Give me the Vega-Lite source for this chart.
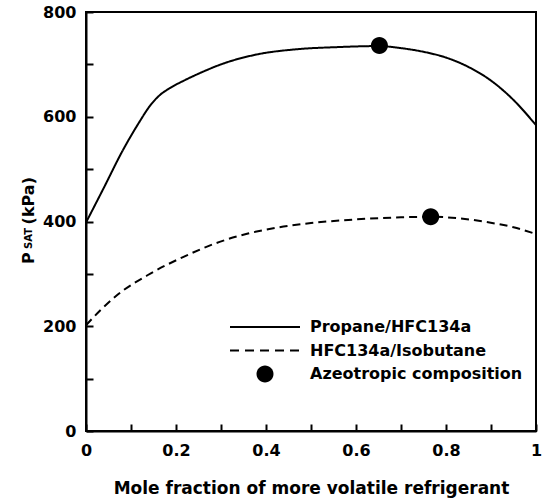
{
  "$schema": "https://vega.github.io/schema/vega-lite/v6.json",
  "autosize": "none",
  "width": 450,
  "height": 419,
  "padding": {"left": 86, "top": 12, "right": 8, "bottom": 70},
  "background": "white",
  "config": {
    "view": {"stroke": "black", "strokeWidth": 2},
    "font": "DejaVu Sans",
    "axis": {
      "domainColor": "black", "domainWidth": 2,
      "tickColor": "black", "tickWidth": 2, "tickSize": -7,
      "grid": false,
      "labelFont": "DejaVu Sans", "labelFontSize": 16, "labelFontWeight": "bold", "labelColor": "black",
      "titleFont": "DejaVu Sans", "titleFontSize": 17, "titleFontWeight": "bold", "titleColor": "black"
    }
  },
  "resolve": {"axis": {"y": "independent"}},
  "layer": [
    {
      "data": {"values": [
        {"x": 0, "p": 398, "series": "Propane/HFC134a"},
        {"x": 0.04, "p": 465, "series": "Propane/HFC134a"},
        {"x": 0.08, "p": 533, "series": "Propane/HFC134a"},
        {"x": 0.115, "p": 585, "series": "Propane/HFC134a"},
        {"x": 0.145, "p": 624, "series": "Propane/HFC134a"},
        {"x": 0.165, "p": 642, "series": "Propane/HFC134a"},
        {"x": 0.185, "p": 654, "series": "Propane/HFC134a"},
        {"x": 0.22, "p": 670, "series": "Propane/HFC134a"},
        {"x": 0.26, "p": 686, "series": "Propane/HFC134a"},
        {"x": 0.3, "p": 700, "series": "Propane/HFC134a"},
        {"x": 0.38, "p": 719, "series": "Propane/HFC134a"},
        {"x": 0.47, "p": 729, "series": "Propane/HFC134a"},
        {"x": 0.56, "p": 733, "series": "Propane/HFC134a"},
        {"x": 0.65, "p": 735, "series": "Propane/HFC134a"},
        {"x": 0.7, "p": 731, "series": "Propane/HFC134a"},
        {"x": 0.75, "p": 724, "series": "Propane/HFC134a"},
        {"x": 0.8, "p": 713, "series": "Propane/HFC134a"},
        {"x": 0.85, "p": 695, "series": "Propane/HFC134a"},
        {"x": 0.9, "p": 669, "series": "Propane/HFC134a"},
        {"x": 0.95, "p": 632, "series": "Propane/HFC134a"},
        {"x": 1.0, "p": 584, "series": "Propane/HFC134a"},
        {"x": 0, "p": 202, "series": "HFC134a/Isobutane"},
        {"x": 0.035, "p": 233, "series": "HFC134a/Isobutane"},
        {"x": 0.07, "p": 260, "series": "HFC134a/Isobutane"},
        {"x": 0.144, "p": 301, "series": "HFC134a/Isobutane"},
        {"x": 0.218, "p": 333, "series": "HFC134a/Isobutane"},
        {"x": 0.29, "p": 359, "series": "HFC134a/Isobutane"},
        {"x": 0.36, "p": 377, "series": "HFC134a/Isobutane"},
        {"x": 0.43, "p": 389, "series": "HFC134a/Isobutane"},
        {"x": 0.5, "p": 397, "series": "HFC134a/Isobutane"},
        {"x": 0.6, "p": 404, "series": "HFC134a/Isobutane"},
        {"x": 0.7, "p": 408, "series": "HFC134a/Isobutane"},
        {"x": 0.77, "p": 409, "series": "HFC134a/Isobutane"},
        {"x": 0.83, "p": 406, "series": "HFC134a/Isobutane"},
        {"x": 0.89, "p": 399, "series": "HFC134a/Isobutane"},
        {"x": 0.95, "p": 389, "series": "HFC134a/Isobutane"},
        {"x": 1.0, "p": 376, "series": "HFC134a/Isobutane"}
      ]},
      "mark": {"type": "line", "interpolate": "monotone", "color": "black", "strokeWidth": 2},
      "encoding": {
        "x": {"field": "x", "type": "quantitative",
          "scale": {"domain": [0, 1], "nice": false},
          "axis": {"values": [0, 0.1, 0.2, 0.3, 0.4, 0.5, 0.6, 0.7, 0.8, 0.9, 1],
            "labelExpr": "round(datum.value*10) % 2 == 0 ? format(datum.value, '~g') : ''",
            "labelPadding": 18, "labelFlush": false,
            "title": "Mole fraction of more volatile refrigerant", "titlePadding": 22}},
        "y": {"field": "p", "type": "quantitative",
          "scale": {"domain": [0, 800], "nice": false},
          "axis": {"values": [0, 100, 200, 300, 400, 500, 600, 700, 800],
            "labelExpr": "datum.value % 200 == 0 ? datum.label : ''",
            "labelPadding": 17, "labelFlush": false,
            "title": "P\u00a0\u00a0\u00a0\u00a0\u00a0(kPa)", "titleFontSize": 16,
            "titleAngle": -90, "titleAlign": "center", "titleBaseline": "alphabetic",
            "titleX": -53, "titleY": 208}},
        "detail": {"field": "series"},
        "strokeDash": {"field": "series", "type": "nominal",
          "scale": {"domain": ["Propane/HFC134a", "HFC134a/Isobutane"], "range": [[1, 0], [8, 5]]},
          "legend": null}
      }
    },
    {
      "data": {"values": [
        {"x": 0.652, "p": 736, "series": "Azeotropic composition"},
        {"x": 0.766, "p": 409, "series": "Azeotropic composition"}
      ]},
      "mark": {"type": "point", "filled": true, "color": "black", "size": 400, "opacity": 1},
      "encoding": {
        "x": {"field": "x", "type": "quantitative"},
        "y": {"field": "p", "type": "quantitative",
          "axis": {"orient": "left", "labels": false, "ticks": false, "domain": false, "grid": false,
            "title": "SAT", "titleFontSize": 10,
            "titleAngle": -90, "titleAlign": "center", "titleBaseline": "alphabetic",
            "titleX": -55, "titleY": 226}},
        "shape": {"field": "series", "type": "nominal",
          "scale": {"domain": ["Propane/HFC134a", "HFC134a/Isobutane", "Azeotropic composition"],
                    "range": [
                      "M-3.5,-0.1H3.5V0.1H-3.5Z",
                      "M-3.5,-0.1H-2.6V0.1H-3.5ZM-2.0,-0.1H-1.1V0.1H-2.0ZM-0.5,-0.1H0.4V0.1H-0.5ZM1.0,-0.1H1.9V0.1H1.0ZM2.5,-0.1H3.4V0.1H2.5Z",
                      "M0.85,0A0.85,0.85 0 1,1 -0.85,0A0.85,0.85 0 1,1 0.85,0Z"
                    ]},
          "legend": {
            "orient": "none", "legendX": 169, "legendY": 305,
            "title": null,
            "symbolSize": 400, "symbolStrokeWidth": 0,
            "symbolStrokeColor": "black", "symbolFillColor": "black", "symbolOpacity": 1,
            "labelFont": "DejaVu Sans", "labelFontSize": 16, "labelFontWeight": "bold", "labelColor": "black",
            "labelOffset": 35, "rowPadding": 5.5, "labelLimit": 400
          }}
      }
    }
  ]
}
